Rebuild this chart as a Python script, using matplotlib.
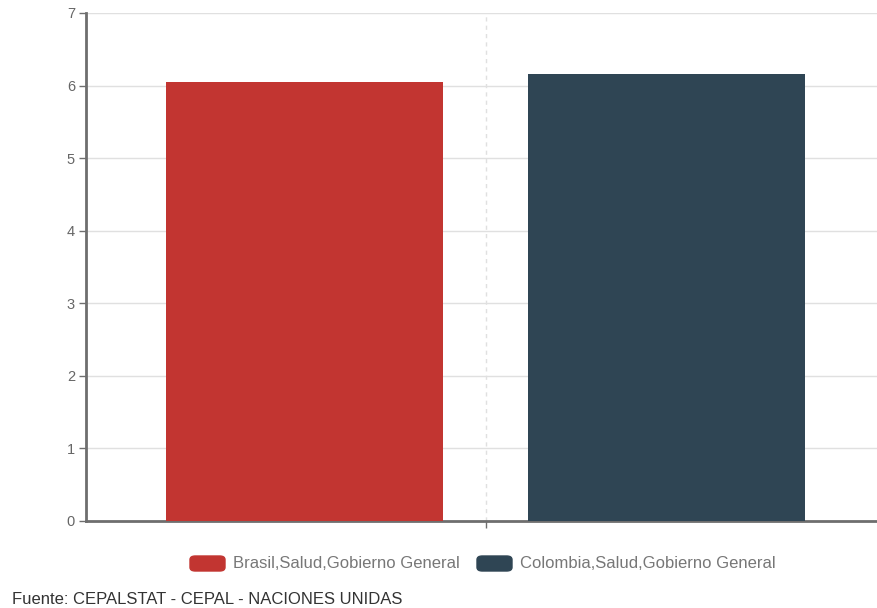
import matplotlib
matplotlib.use("Agg")
import matplotlib.pyplot as plt
from matplotlib.patches import FancyBboxPatch

plt.rcParams['font.family'] = ['Liberation Sans', 'DejaVu Sans']

# data
series = ['Brasil,Salud,Gobierno General', 'Colombia,Salud,Gobierno General']
values = [6.05, 6.16]
colors = ['#c23531', '#2f4554']
yticks = [0, 1, 2, 3, 4, 5, 6, 7]
source = 'Fuente: CEPALSTAT - CEPAL - NACIONES UNIDAS'

# bar placement inside each category slot
offsets = [0.046, -0.049]
bar_width = 0.6925

W, H = 878, 608
fig = plt.figure(figsize=(W / 100, H / 100), dpi=100)
ax = fig.add_axes([86 / W, 1 - 521 / H, 800 / W, 508 / H])

for i, (name, v, c) in enumerate(zip(series, values, colors)):
    ax.bar(i + offsets[i], v, width=bar_width, color=c, zorder=3)

ax.set_xlim(-0.5, 1.5)
ax.set_ylim(0, 7)
ax.set_yticks(yticks)
ax.set_xticks([0.5])
ax.set_xticklabels([''])
ax.grid(axis='y', color='#e0e0e0', linewidth=1, zorder=0)
ax.axvline(0.5, color='#e0e0e0', linestyle=(0, (3, 3)), linewidth=1, zorder=0)

for side in ['top', 'right']:
    ax.spines[side].set_visible(False)
for side in ['left', 'bottom']:
    ax.spines[side].set_color('#6e6e6e')
    ax.spines[side].set_linewidth(2)
ax.tick_params(axis='both', colors='#6e6e6e', length=5, width=1)
ax.tick_params(axis='y', labelcolor='#666666', labelsize=10.5, pad=3)

# legend with rounded swatches
legend_items = [(190, 233), (477, 520)]
for (px, tx), name, c in zip(legend_items, series, colors):
    fig.patches.append(FancyBboxPatch((px / W, 1 - 571 / H), 35 / W, 15 / H,
                                      boxstyle='round,pad=0,rounding_size=0.006',
                                      transform=fig.transFigure, color=c))
    fig.text(tx / W, 1 - 563 / H, name, color='#777777', fontsize=12, va='center')

fig.text(12 / W, 1 - 600 / H, source, color='#333333', fontsize=12, va='center')

fig.savefig('out.png', dpi=100)
